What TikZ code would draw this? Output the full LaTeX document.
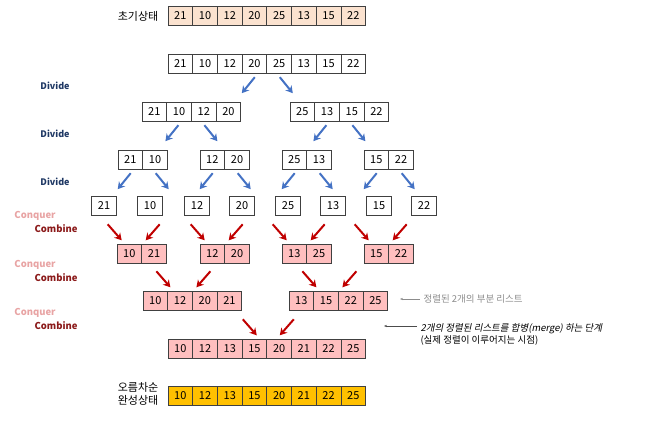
\documentclass[tikz,border=0pt]{standalone}
\usepackage{fontspec}
\setmainfont{Noto Sans CJK KR}
\newfontfamily\cjkit{Noto Sans CJK KR}[FakeSlant=0.2]
\usetikzlibrary{arrows.meta}
\definecolor{initfill}{HTML}{FBE2CF}
\definecolor{mergefill}{HTML}{FFBFBF}
\definecolor{donefill}{HTML}{FFC000}
\definecolor{divblue}{HTML}{1F3864}
\definecolor{arrblue}{HTML}{4472C4}
\definecolor{arrred}{HTML}{C00000}
\definecolor{conqpink}{HTML}{E8A4A4}
\definecolor{combred}{HTML}{8B1A1A}
\tikzset{
  cell/.style={draw=black!75, line width=0.8pt, minimum width=24.7pt, minimum height=19pt,
    inner sep=0pt, font=\fontsize{11}{13}\selectfont},
  barrow/.style={arrblue, line width=2pt, -{Stealth[length=7pt,width=8pt]}},
  rarrow/.style={arrred, line width=2pt, -{Stealth[length=7pt,width=8pt]}},
  divlabel/.style={divblue, font=\fontsize{9}{11}\selectfont\bfseries},
  conqlabel/.style={conqpink, font=\fontsize{9.5}{11}\selectfont\bfseries},
  comblabel/.style={combred, font=\fontsize{9.5}{11}\selectfont\bfseries},
}
% #1 name, #2 left x, #3 center y, #4 number of cells, #5 values, #6 fill
\newcommand\cellrow[6]{%
  \foreach \v [count=\i] in {#5}
    \node[cell, fill=#6] (#1-\i) at ({#2+\i*24.7-12.35}, #3) {\v};
  \node[inner sep=0pt, minimum width={#4*24.7pt}, minimum height=19pt] (#1) at ({#2+#4*12.35}, #3) {};
}
\begin{document}
\begin{tikzpicture}[x=1pt, y=-1pt]
    \useasboundingbox (0,0) rectangle (670,422);

    % Initial state
    \node[font=\fontsize{11}{13}\selectfont] (initlbl) at (138,16) {초기상태};
    \cellrow{g0}{168}{16}{8}{21,10,12,20,25,13,15,22}{initfill}

    % Divide
    \cellrow{g1}{168}{63.5}{8}{21,10,12,20,25,13,15,22}{white}
    \cellrow{g2a}{142}{111.5}{4}{21,10,12,20}{white}
    \cellrow{g2b}{290}{111.5}{4}{25,13,15,22}{white}
    \cellrow{g3a}{118}{159.5}{2}{21,10}{white}
    \cellrow{g3b}{200}{159.5}{2}{12,20}{white}
    \cellrow{g3c}{282}{159.5}{2}{25,13}{white}
    \cellrow{g3d}{364}{159.5}{2}{15,22}{white}
    \foreach \x/\v [count=\i] in {104/21,150/10,197/12,242/20,288/25,333/13,379/15,424/22}
        \node[cell, fill=white] (s\i) at (\x,206) {\v};

    % Conquer / Combine
    \cellrow{m5a}{117}{254}{2}{10,21}{mergefill}
    \cellrow{m5b}{200}{254}{2}{12,20}{mergefill}
    \cellrow{m5c}{282}{254}{2}{13,25}{mergefill}
    \cellrow{m5d}{364}{254}{2}{15,22}{mergefill}
    \cellrow{m6a}{143}{301}{4}{10,12,20,21}{mergefill}
    \cellrow{m6b}{289}{301}{4}{13,15,22,25}{mergefill}
    \cellrow{m7}{168}{349}{8}{10,12,13,15,20,21,22,25}{mergefill}

    % Final state
    \node[font=\fontsize{11}{13}\selectfont, align=center] (donelbl) at (138,394) {오름차순\\완성상태};
    \cellrow{g8}{168}{396}{8}{10,12,13,15,20,21,22,25}{donefill}

    % Arrows
    \foreach \p/\o/\d in {g1/-12/-1, g1/13/1, g2a/-13/-1, g2a/13/1, g2b/-13/-1, g2b/13/1,
        g3a/-12/-1, g3a/13/1, g3b/-12/-1, g3b/13/1, g3c/-12/-1, g3c/13/1, g3d/-12/-1, g3d/13/1}
        \draw[barrow] ([xshift=\o pt, yshift=-4pt]\p.south) -- ++(\d*13,16);
    \foreach \p/\o/\d in {m5a/-20/1, m5a/4/-1, m5b/-20/1, m5b/4/-1, m5c/-20/1, m5c/4/-1,
        m5d/-20/1, m5d/4/-1, m6a/-22/1, m6a/4/-1, m6b/-22/1, m6b/4/-1, m7/-10/1, m7/13/-1}
        \draw[rarrow] ([xshift=\o pt, yshift=4pt]\p.north) ++(-\d*14,-16) -- ++(\d*14,16);

    % Stage labels
    \foreach \y [count=\i] in {86,134,182}
        \node[divlabel] (div\i) at (55,\y) {Divide};
    \foreach \y [count=\i] in {216,265,313} {
        \node[conqlabel] (conq\i) at (35,\y) {Conquer};
        \node[comblabel] (comb\i) at (56,\y+13) {Combine};
    }

    % Notes
    \node[anchor=west, black!45, font=\fontsize{9.5}{11}\selectfont] (note1) at (420,299) {정렬된 2개의 부분 리스트};
    \draw[black!45, line width=0.5pt, -{Stealth[length=3pt]}] (note1.west) -- (400,299);
    \node[anchor=west, align=left, font=\fontsize{9.5}{12}\selectfont] (note2) at (417,334)
        {{\cjkit 2개의 정렬된 리스트를 합병(merge) 하는 단계}\\(실제 정렬이 이루어지는 시점)};
    \draw[black!70, line width=0.5pt, -{Stealth[length=3pt]}] ([yshift=8pt]note2.west) -- (384,326);
\end{tikzpicture}
\end{document}
